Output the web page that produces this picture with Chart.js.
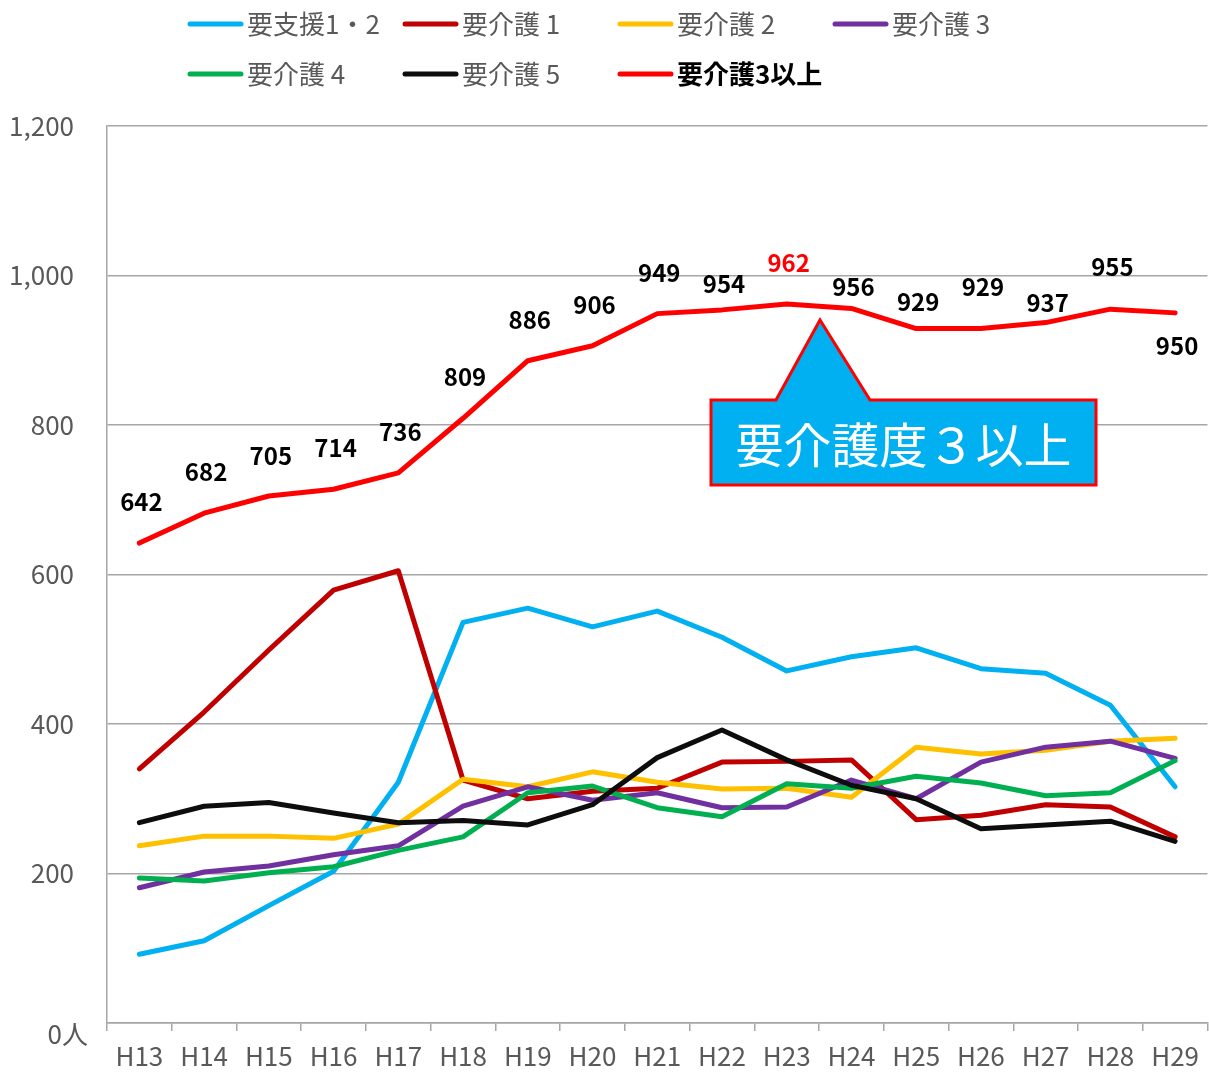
<!DOCTYPE html>
<html lang="ja">
<head>
<meta charset="UTF-8">
<title>要介護度別 認定者数の推移</title>
<script src="https://cdn.jsdelivr.net/npm/chart.js"></script>
<style>
  html, body { margin: 0; padding: 0; background: #fff; }
  #wrap { width: 1209px; height: 1072px; position: relative; }
</style>
</head>
<body>
<div id="wrap"><canvas id="chart"></canvas></div>
<script>
  const years = ['H13', 'H14', 'H15', 'H16', 'H17', 'H18', 'H19', 'H20', 'H21',
                 'H22', 'H23', 'H24', 'H25', 'H26', 'H27', 'H28', 'H29'];

  // 人数
  const shien12 = [92, 110, 157, 203, 322, 536, 555, 530, 551, 516, 471, 490, 502, 474, 468, 425, 316];
  const kaigo1  = [340, 416, 499, 579, 605, 325, 300, 310, 314, 349, 350, 352, 272, 278, 292, 289, 249];
  const kaigo2  = [237, 250, 250, 247, 266, 326, 316, 336, 322, 313, 314, 302, 369, 360, 365, 377, 381];
  const kaigo3  = [181, 202, 210, 225, 237, 290, 316, 298, 308, 288, 289, 325, 300, 349, 369, 377, 354];
  const kaigo4  = [194, 190, 201, 209, 231, 249, 308, 317, 288, 276, 320, 314, 330, 321, 304, 308, 351];
  const kaigo5  = [268, 290, 295, 281, 268, 271, 265, 292, 355, 392, 352, 318, 300, 260, 265, 270, 243];
  const over3   = [642, 682, 705, 714, 736, 809, 886, 906, 949, 954, 962, 956, 929, 929, 937, 955, 950];

  const yTicks = [0, 200, 400, 600, 800, 1000, 1200];

  const seriesNames = ['要支援1・2', '要介護 1', '要介護 2', '要介護 3', '要介護 4', '要介護 5', '要介護3以上'];
  const seriesData = [shien12, kaigo1, kaigo2, kaigo3, kaigo4, kaigo5, over3];
  const seriesColors = ['#00b0f0', '#c00000', '#ffc000', '#7030a0', '#00b050', '#0d0d0d', '#ff0000'];

  const FONT = '"Noto Sans CJK JP", "Noto Sans", sans-serif';

  // legend, data labels, callout box
  const decor = {
    id: 'decor',
    afterDatasetsDraw(chart, args, opts) {
      const ctx = chart.ctx;
      ctx.save();

      // labels on the 要介護3以上 line
      const meta = chart.getDatasetMeta(6);
      ctx.font = 'bold 24px ' + FONT;
      ctx.textAlign = 'center';
      ctx.textBaseline = 'middle';
      meta.data.forEach((pt, i) => {
        ctx.fillStyle = i === opts.redLabel ? '#ff0000' : '#000';
        ctx.fillText(over3[i].toString(), pt.x + 2, pt.y + opts.labelDy[i]);
      });

      // callout
      const b = opts.box;
      ctx.beginPath();
      ctx.moveTo(b.left, b.top);
      ctx.lineTo(b.tipLeft, b.top);
      ctx.lineTo(b.tipX, b.tipY);
      ctx.lineTo(b.tipRight, b.top);
      ctx.lineTo(b.right, b.top);
      ctx.lineTo(b.right, b.bottom);
      ctx.lineTo(b.left, b.bottom);
      ctx.closePath();
      ctx.fillStyle = '#00b0f0';
      ctx.fill();
      ctx.lineWidth = 3;
      ctx.strokeStyle = '#ff0000';
      ctx.lineJoin = 'miter';
      ctx.stroke();
      ctx.fillStyle = '#fff';
      ctx.font = '48px ' + FONT;
      ctx.fillText('要介護度３以上', (b.left + b.right) / 2, (b.top + b.bottom) / 2 + 2);
      ctx.restore();
    },
    afterDraw(chart) {
      const ctx = chart.ctx;
      ctx.save();
      // legend: 4 columns, 2 rows
      chart.data.datasets.forEach((ds, i) => {
        const x = 188 + (i % 4) * 215;
        const y = 24 + Math.floor(i / 4) * 50;
        ctx.beginPath();
        ctx.moveTo(x + 2, y);
        ctx.lineTo(x + 53, y);
        ctx.lineWidth = 5;
        ctx.lineCap = 'round';
        ctx.strokeStyle = ds.borderColor;
        ctx.stroke();
        ctx.font = (i === 6 ? 'bold ' : '') + '26px ' + FONT;
        ctx.fillStyle = i === 6 ? '#000' : '#595959';
        ctx.textAlign = 'left';
        ctx.textBaseline = 'middle';
        ctx.fillText(ds.label, x + 59, y);
      });
      // zero label
      ctx.font = '26px ' + FONT;
      ctx.fillStyle = '#595959';
      ctx.textAlign = 'right';
      ctx.textBaseline = 'middle';
      ctx.fillText('0人', 88, 1034);
      ctx.restore();
    }
  };

  new Chart(document.getElementById('chart'), {
    type: 'line',
    data: {
      labels: years,
      datasets: seriesNames.map((name, i) => ({
        label: name,
        data: seriesData[i],
        borderColor: seriesColors[i],
        backgroundColor: seriesColors[i],
        borderWidth: 5,
        order: seriesNames.length - i
      }))
    },
    options: {
      responsive: true,
      maintainAspectRatio: false,
      animation: false,
      layout: { padding: { top: 126, right: 0, bottom: 0, left: 0 } },
      elements: {
        point: { radius: 0, hoverRadius: 0 },
        line: { tension: 0, borderCapStyle: 'round', borderJoinStyle: 'round' }
      },
      plugins: {
        legend: { display: false },
        tooltip: { enabled: false },
        decor: {
          redLabel: 10,
          labelDy: [-41, -41, -40, -41, -41, -41, -41, -41, -41, -26, -41, -22, -27, -42, -20, -42, 33],
          box: { left: 711, right: 1096, top: 400, bottom: 485, tipLeft: 776, tipRight: 870, tipX: 820, tipY: 320 }
        }
      },
      scales: {
        x: {
          offset: true,
          afterFit: (scale) => { scale.height = 49; },
          grid: {
            offset: true,
            drawOnChartArea: false,
            drawTicks: true,
            tickLength: 8,
            color: '#a6a6a6',
            lineWidth: 1.5
          },
          border: { display: true, color: '#a6a6a6', width: 1.5 },
          ticks: {
            font: { family: FONT, size: 26 },
            color: '#595959',
            padding: 10,
            maxRotation: 0,
            autoSkip: false
          }
        },
        y: {
          min: 0,
          max: 1200,
          afterBuildTicks: (scale) => { scale.ticks = yTicks.map(v => ({ value: v })); },
          afterFit: (scale) => { scale.width = 107; },
          grid: { drawTicks: false, color: '#a6a6a6', lineWidth: 1.5 },
          border: { display: true, color: '#a6a6a6', width: 1.5 },
          ticks: {
            font: { family: FONT, size: 26 },
            color: '#595959',
            padding: 33,
            callback: (v) => v === 0 ? '' : v.toLocaleString('en-US')
          }
        }
      }
    },
    plugins: [decor]
  });
</script>
</body>
</html>
